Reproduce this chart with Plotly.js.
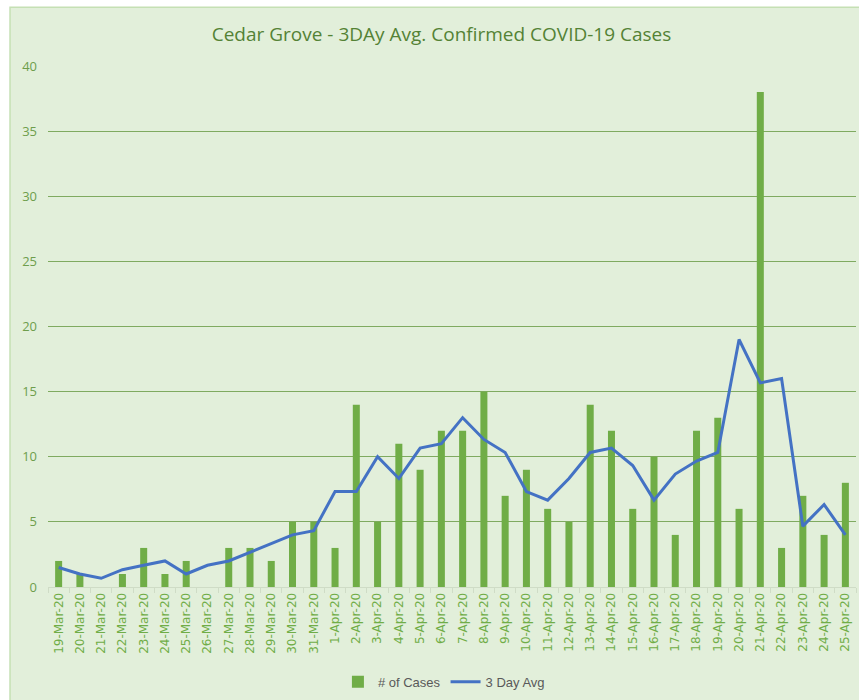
<!DOCTYPE html>
<html>
<head>
<meta charset="utf-8">
<script src="https://cdn.plot.ly/plotly-3.0.1.min.js"></script>
<style>html,body{margin:0;padding:0;background:#fff;}#chart{width:859px;height:700px;}</style>
</head>
<body>
<div id="chart"></div>
<script>
const dates = ["19-Mar-20","20-Mar-20","21-Mar-20","22-Mar-20","23-Mar-20","24-Mar-20","25-Mar-20","26-Mar-20","27-Mar-20","28-Mar-20","29-Mar-20","30-Mar-20","31-Mar-20","1-Apr-20","2-Apr-20","3-Apr-20","4-Apr-20","5-Apr-20","6-Apr-20","7-Apr-20","8-Apr-20","9-Apr-20","10-Apr-20","11-Apr-20","12-Apr-20","13-Apr-20","14-Apr-20","15-Apr-20","16-Apr-20","17-Apr-20","18-Apr-20","19-Apr-20","20-Apr-20","21-Apr-20","22-Apr-20","23-Apr-20","24-Apr-20","25-Apr-20"];
const cases = [2,1,0,1,3,1,2,0,3,3,2,5,5,3,14,5,11,9,12,12,15,7,9,6,5,14,12,6,10,4,12,13,6,38,3,7,4,8];
const avg3 = [1.5,1,0.67,1.33,1.67,2,1,1.67,2,2.67,3.33,4,4.33,7.33,7.33,10,8.33,10.67,11,13,11.33,10.33,7.33,6.67,8.33,10.33,10.67,9.33,6.67,8.67,9.67,10.33,19,15.67,16,4.67,6.33,4];
const yTicks = [0,5,10,15,20,25,30,35,40];

const traces = [
  {type:'bar', x:dates, y:cases, name:'# of Cases', marker:{color:'#70AD47'}, width:0.33},
  {type:'scatter', mode:'lines', x:dates, y:avg3, name:'3 Day Avg', line:{color:'#4472C4', width:3}}
];
const layout = {
  width:859, height:700,
  paper_bgcolor:'#ffffff', plot_bgcolor:'rgba(0,0,0,0)',
  margin:{l:48, r:3, t:66, b:113},
  title:{text:'Cedar Grove - 3DAy Avg. Confirmed COVID-19 Cases', x:0.514, xanchor:'center', y:0.951, yanchor:'middle',
         font:{family:'Open Sans', size:19, color:'#548235'}},
  xaxis:{type:'category', tickangle:-90, tickfont:{family:'DejaVu Sans', size:12, color:'#70AD47'},
         showgrid:false, showline:true, linecolor:'#CFDCC6', linewidth:1, ticks:'outside', ticklen:5, tickcolor:'#CFDCC6',
         tickson:'boundaries', range:[-0.5, dates.length-0.5], fixedrange:true},
  yaxis:{range:[0,40], tickvals:yTicks, ticktext:yTicks.map(String), tickfont:{family:'Open Sans', size:13, color:'#6E9E4C'},
         showgrid:true, gridcolor:'#7FAA60', gridwidth:1, zeroline:false, showline:false, ticks:'', ticklabelstandoff:10},
  showlegend:true,
  legend:{orientation:'h', x:0.49, xanchor:'center', y:-0.182, yanchor:'middle', itemwidth:30,
          font:{family:'Liberation Sans', size:13, color:'#595959'}, bgcolor:'rgba(0,0,0,0)'},
  bargap:0.67,
  shapes:[{type:'rect', xref:'paper', yref:'paper', x0:-0.047, x1:1.01, y0:-0.24, y1:1.113, fillcolor:'#E2EFDA', line:{color:'#C5E0B4', width:1.5}, layer:'below'}]
};
Plotly.newPlot('chart', traces, layout, {staticPlot:true});
</script>
</body>
</html>
